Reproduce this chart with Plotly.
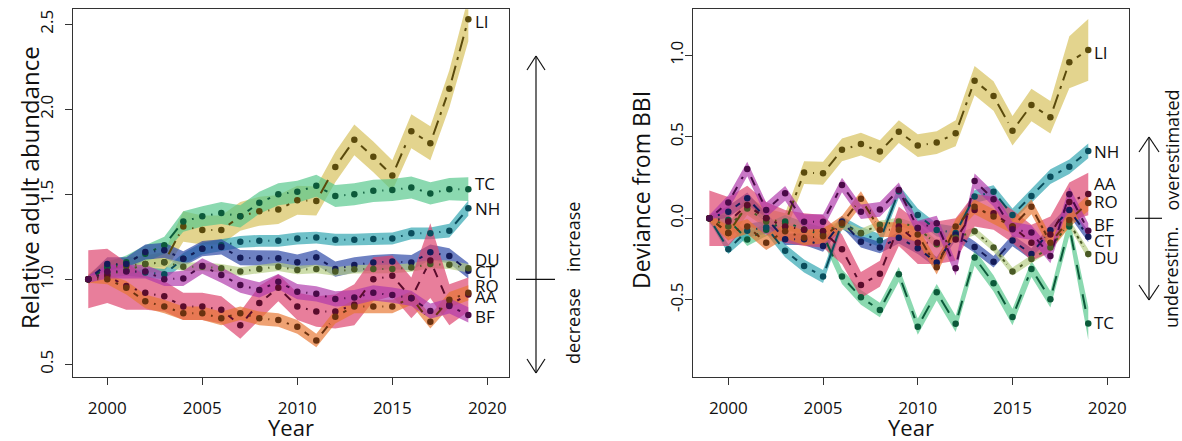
import math
import plotly.graph_objects as go

years = list(range(1999, 2020))
species = ["LI", "TC", "NH", "CT", "DU", "AA", "RO", "BF"]

# ---- left panel: relative adult abundance (estimates) ----
abund_LI = [1.00, 1.07, 1.08, 1.09, 1.10, 1.31, 1.29, 1.29, 1.37, 1.40, 1.41, 1.465, 1.46, 1.66, 1.82, 1.72, 1.61, 1.87, 1.80, 2.12, 2.53]
abund_TC = [1.00, 1.07, 1.10, 1.15, 1.20, 1.34, 1.37, 1.39, 1.37, 1.45, 1.50, 1.515, 1.55, 1.49, 1.50, 1.52, 1.525, 1.54, 1.505, 1.53, 1.53]
abund_NH = [1.00, 1.04, 1.05, 1.04, 1.03, 1.12, 1.18, 1.20, 1.22, 1.226, 1.226, 1.24, 1.245, 1.232, 1.232, 1.237, 1.24, 1.27, 1.27, 1.286, 1.418]
abund_CT = [1.00, 1.09, 1.09, 1.16, 1.17, 1.12, 1.18, 1.19, 1.127, 1.124, 1.124, 1.10, 1.129, 1.06, 1.084, 1.098, 1.104, 1.098, 1.159, 1.137, 1.05]
abund_DU = [1.00, 1.03, 1.05, 1.09, 1.10, 1.074, 1.074, 1.065, 1.045, 1.061, 1.074, 1.055, 1.061, 1.045, 1.059, 1.061, 1.061, 1.069, 1.089, 1.085, 1.065]
abund_AA = [1.00, 1.02, 0.96, 0.92, 0.90, 0.84, 0.84, 0.82, 0.73, 0.86, 0.95, 0.84, 0.81, 0.81, 0.85, 1.00, 1.02, 0.89, 1.11, 0.85, 0.91]
abund_RO = [1.00, 1.00, 0.95, 0.87, 0.84, 0.80, 0.80, 0.77, 0.80, 0.77, 0.76, 0.72, 0.64, 0.78, 0.84, 0.84, 0.84, 0.89, 0.75, 0.88, 0.92]
abund_BF = [1.00, 1.045, 1.045, 1.045, 1.00, 1.005, 1.078, 1.025, 0.966, 0.937, 0.986, 0.927, 0.914, 0.884, 0.892, 0.92, 0.907, 0.888, 0.813, 0.843, 0.79]

# half-widths of the uncertainty bands (left panel)
abund_hw_LI = [0.03, 0.04, 0.05, 0.05, 0.06, 0.09, 0.085, 0.085, 0.085, 0.085, 0.085, 0.085, 0.085, 0.09, 0.09, 0.09, 0.09, 0.10, 0.10, 0.11, 0.13]
abund_hw_TC = [0.02, 0.03, 0.04, 0.05, 0.05, 0.06, 0.06, 0.065, 0.065, 0.065, 0.065, 0.065, 0.065, 0.065, 0.065, 0.065, 0.065, 0.065, 0.065, 0.065, 0.07]
abund_hw_NH = [0.02, 0.03, 0.03, 0.03, 0.03, 0.035, 0.035, 0.035, 0.035, 0.035, 0.035, 0.035, 0.035, 0.035, 0.035, 0.035, 0.035, 0.035, 0.035, 0.04, 0.045]
abund_hw_CT = [0.02, 0.04, 0.04, 0.045, 0.045, 0.045, 0.045, 0.045, 0.045, 0.045, 0.045, 0.045, 0.045, 0.045, 0.045, 0.045, 0.045, 0.045, 0.045, 0.045, 0.045]
abund_hw_DU = [0.015, 0.02, 0.02, 0.025, 0.025, 0.025, 0.025, 0.025, 0.025, 0.025, 0.025, 0.025, 0.025, 0.025, 0.025, 0.025, 0.025, 0.025, 0.025, 0.025, 0.025]
abund_hw_AA = [0.17, 0.16, 0.14, 0.10, 0.09, 0.08, 0.08, 0.08, 0.08, 0.10, 0.08, 0.08, 0.09, 0.10, 0.12, 0.13, 0.12, 0.12, 0.22, 0.12, 0.10]
abund_hw_RO = [0.02, 0.03, 0.04, 0.04, 0.04, 0.04, 0.04, 0.04, 0.04, 0.04, 0.04, 0.04, 0.04, 0.04, 0.04, 0.04, 0.04, 0.04, 0.04, 0.045, 0.045]
abund_hw_BF = [0.02, 0.04, 0.04, 0.04, 0.04, 0.045, 0.045, 0.045, 0.045, 0.045, 0.045, 0.045, 0.045, 0.045, 0.045, 0.045, 0.045, 0.045, 0.045, 0.045, 0.045]

# ---- right panel: deviance from BBI ----
dev_LI = [0.00, -0.09, 0.08, 0.00, -0.03, 0.28, 0.276, 0.42, 0.455, 0.409, 0.531, 0.446, 0.464, 0.521, 0.844, 0.75, 0.537, 0.695, 0.62, 0.957, 1.033]
dev_TC = [0.00, -0.01, -0.13, -0.07, -0.02, -0.07, -0.10, -0.358, -0.485, -0.563, -0.344, -0.665, -0.454, -0.648, -0.241, -0.399, -0.606, -0.311, -0.497, -0.051, -0.645]
dev_NH = [0.00, -0.19, -0.076, -0.055, -0.20, -0.293, -0.358, -0.027, -0.092, -0.136, 0.165, 0.02, -0.072, -0.09, 0.133, 0.163, 0.02, 0.137, 0.255, 0.316, 0.413]
dev_CT = [0.00, 0.04, 0.123, 0.00, -0.129, -0.129, -0.17, -0.02, -0.144, -0.18, -0.12, -0.184, -0.272, -0.10, -0.176, -0.267, -0.137, -0.219, -0.073, 0.051, -0.113]
dev_DU = [0.00, -0.05, 0.06, -0.02, -0.05, -0.07, -0.08, -0.04, -0.09, -0.04, -0.02, -0.06, -0.16, -0.12, -0.08, -0.18, -0.327, -0.25, -0.18, -0.03, -0.22]
dev_AA = [0.00, -0.02, 0.08, 0.00, -0.05, -0.07, -0.08, -0.19, -0.41, -0.34, -0.05, -0.15, -0.15, -0.13, 0.05, 0.03, -0.05, -0.15, -0.10, 0.10, 0.149]
dev_RO = [0.00, -0.09, -0.05, -0.15, -0.08, -0.12, -0.11, -0.03, 0.12, -0.07, -0.07, -0.10, -0.30, -0.05, 0.07, 0.01, -0.05, 0.07, -0.15, -0.01, 0.094]
dev_BF = [0.00, 0.096, 0.302, 0.051, 0.153, -0.021, -0.021, 0.204, 0.04, 0.054, 0.174, -0.06, -0.03, -0.307, 0.229, 0.117, -0.068, -0.088, -0.231, 0.147, -0.076]

dev_hw_LI = [0.03, 0.05, 0.06, 0.06, 0.06, 0.07, 0.07, 0.07, 0.07, 0.07, 0.07, 0.07, 0.07, 0.08, 0.09, 0.09, 0.09, 0.10, 0.10, 0.16, 0.19]
dev_hw_TC = [0.02, 0.03, 0.04, 0.04, 0.04, 0.045, 0.045, 0.045, 0.045, 0.045, 0.045, 0.05, 0.05, 0.05, 0.05, 0.05, 0.05, 0.05, 0.05, 0.06, 0.10]
dev_hw_NH = [0.02, 0.03, 0.04, 0.04, 0.04, 0.04, 0.04, 0.04, 0.04, 0.04, 0.04, 0.04, 0.04, 0.04, 0.04, 0.04, 0.04, 0.045, 0.045, 0.045, 0.045]
dev_hw_CT = [0.02, 0.035, 0.035, 0.035, 0.035, 0.035, 0.035, 0.035, 0.035, 0.035, 0.035, 0.035, 0.035, 0.035, 0.035, 0.035, 0.035, 0.035, 0.035, 0.035, 0.035]
dev_hw_DU = [0.015, 0.025, 0.025, 0.025, 0.025, 0.025, 0.025, 0.025, 0.025, 0.025, 0.025, 0.025, 0.025, 0.025, 0.025, 0.025, 0.025, 0.025, 0.025, 0.025, 0.03]
dev_hw_AA = [0.17, 0.15, 0.12, 0.10, 0.10, 0.10, 0.10, 0.09, 0.08, 0.08, 0.12, 0.13, 0.13, 0.13, 0.10, 0.10, 0.10, 0.11, 0.11, 0.12, 0.13]
dev_hw_RO = [0.02, 0.045, 0.045, 0.045, 0.045, 0.045, 0.045, 0.045, 0.045, 0.045, 0.045, 0.045, 0.045, 0.045, 0.045, 0.045, 0.045, 0.045, 0.045, 0.045, 0.05]
dev_hw_BF = [0.02, 0.045, 0.045, 0.045, 0.045, 0.045, 0.045, 0.045, 0.045, 0.045, 0.045, 0.045, 0.045, 0.045, 0.045, 0.045, 0.045, 0.045, 0.045, 0.045, 0.045]

# label placements (data units, spread to avoid overlap)
abund_label_y = {"LI": 2.514, "TC": 1.566, "NH": 1.414, "DU": 1.119, "CT": 1.043, "RO": 0.966, "AA": 0.90, "BF": 0.78}
dev_label_y = {"LI": 1.014, "NH": 0.407, "AA": 0.216, "RO": 0.10, "BF": -0.041, "CT": -0.134, "DU": -0.238, "TC": -0.637}

abund_ticks = [0.5, 1.0, 1.5, 2.0, 2.5]
dev_ticks = [-0.5, 0.0, 0.5, 1.0]
year_ticks = [2000, 2005, 2010, 2015, 2020]

abund = {"LI": abund_LI, "TC": abund_TC, "NH": abund_NH, "CT": abund_CT, "DU": abund_DU, "AA": abund_AA, "RO": abund_RO, "BF": abund_BF}
abund_hw = {"LI": abund_hw_LI, "TC": abund_hw_TC, "NH": abund_hw_NH, "CT": abund_hw_CT, "DU": abund_hw_DU, "AA": abund_hw_AA, "RO": abund_hw_RO, "BF": abund_hw_BF}
dev = {"LI": dev_LI, "TC": dev_TC, "NH": dev_NH, "CT": dev_CT, "DU": dev_DU, "AA": dev_AA, "RO": dev_RO, "BF": dev_BF}
dev_hw = {"LI": dev_hw_LI, "TC": dev_hw_TC, "NH": dev_hw_NH, "CT": dev_hw_CT, "DU": dev_hw_DU, "AA": dev_hw_AA, "RO": dev_hw_RO, "BF": dev_hw_BF}

# ---- styles ----
band_rgb = {"LI": (214, 191, 88), "TC": (84, 199, 139), "NH": (44, 164, 176), "CT": (42, 69, 165),
            "DU": (182, 205, 131), "AA": (221, 65, 108), "RO": (231, 118, 48), "BF": (176, 56, 171)}
band_alpha = 0.68
line_col = {"LI": "#5a4a0c", "TC": "#0c5a3a", "NH": "#0a4d5c", "CT": "#141b58",
            "DU": "#4a5a26", "AA": "#5a0c2c", "RO": "#6a3210", "BF": "#4a0a48"}
dash = {"LI": "longdashdot", "TC": "longdash", "NH": "solid", "CT": "dashdot",
        "DU": "dot", "AA": "dash", "RO": "dashdot", "BF": "dash"}

FONT = "'Open Sans', Lato, sans-serif"
W, H = 1182, 441
# plot boxes in pixels
L_X0, L_X1 = 72.7, 509.0
R_X0, R_X1 = 692.7, 1129.0
Y_TOP, Y_BOT = 9.3, 377.0

xr_left = [1998.18, 2021.14]
yr_left = [0.425, 2.588]
xr_right = [1998.12, 2021.15]
yr_right = [-0.974, 1.282]

GAP = 9.0  # px gap around points (type = "b" look)


def px2p(x, y):
    return x / W, 1 - y / H


fig = go.Figure()


def add_panel(data, hw, xa, ya, xr, yr, px_w, px_h):
    sx = px_w / (xr[1] - xr[0])
    sy = px_h / (yr[1] - yr[0])
    for sp in species:
        v, h = data[sp], hw[sp]
        up = [a + b for a, b in zip(v, h)]
        lo = [a - b for a, b in zip(v, h)]
        r, g, b = band_rgb[sp]
        fig.add_trace(go.Scatter(x=years + years[::-1], y=up + lo[::-1], fill="toself",
                                 fillcolor=f"rgba({r},{g},{b},{band_alpha})", line=dict(width=0),
                                 mode="lines", hoverinfo="skip", showlegend=False, xaxis=xa, yaxis=ya))
    for sp in species:
        v = data[sp]
        xs, ys = [], []
        for i in range(len(years) - 1):
            x1, y1, x2, y2 = years[i], v[i], years[i + 1], v[i + 1]
            dxp, dyp = (x2 - x1) * sx, (y2 - y1) * sy
            Lp = math.hypot(dxp, dyp)
            if Lp > 2 * GAP + 0.5:
                t = GAP / Lp
                xs += [x1 + t * (x2 - x1), x2 - t * (x2 - x1), None]
                ys += [y1 + t * (y2 - y1), y2 - t * (y2 - y1), None]
        fig.add_trace(go.Scatter(x=xs, y=ys, mode="lines", line=dict(color=line_col[sp], width=2, dash=dash[sp]),
                                 hoverinfo="skip", showlegend=False, xaxis=xa, yaxis=ya))
    for sp in species:
        fig.add_trace(go.Scatter(x=years, y=data[sp], mode="markers",
                                 marker=dict(color=line_col[sp], size=6.5, line=dict(width=0)),
                                 name=sp, showlegend=False, xaxis=xa, yaxis=ya))


pw_l = L_X1 - L_X0
pw_r = R_X1 - R_X0
ph = Y_BOT - Y_TOP
add_panel(abund, abund_hw, "x", "y", xr_left, yr_left, pw_l, ph)
add_panel(dev, dev_hw, "x2", "y2", xr_right, yr_right, pw_r, ph)

axis_common = dict(showline=True, linecolor="#333", linewidth=1, mirror=True, showgrid=False, zeroline=False,
                   ticks="outside", ticklen=7, tickwidth=1, tickcolor="#333",
                   tickfont=dict(family=FONT, size=17, color="#111"))

fig.update_layout(
    width=W, height=H, margin=dict(l=0, r=0, t=0, b=0),
    paper_bgcolor="white", plot_bgcolor="white",
    xaxis=dict(domain=[L_X0 / W, L_X1 / W], range=xr_left, tickvals=year_ticks, anchor="y",
               ticklabelstandoff=9, **axis_common),
    yaxis=dict(domain=[1 - Y_BOT / H, 1 - Y_TOP / H], range=yr_left, tickvals=abund_ticks,
               ticktext=[f"{t:.1f}" for t in abund_ticks], tickangle=-90, anchor="x",
               ticklabelstandoff=5, **axis_common),
    xaxis2=dict(domain=[R_X0 / W, R_X1 / W], range=xr_right, tickvals=year_ticks, anchor="y2",
                ticklabelstandoff=9, **axis_common),
    yaxis2=dict(domain=[1 - Y_BOT / H, 1 - Y_TOP / H], range=yr_right, tickvals=dev_ticks,
                ticktext=[f"{t:.1f}" for t in dev_ticks], tickangle=-90, anchor="x2",
                ticklabelstandoff=-5, **axis_common),
)

ann = []
for sp, yv in abund_label_y.items():
    ann.append(dict(x=2019.25, y=yv, xref="x", yref="y", text=sp, showarrow=False, xanchor="left",
                    yanchor="middle", font=dict(family=FONT, size=17, color="#111")))
for sp, yv in dev_label_y.items():
    ann.append(dict(x=2019.2, y=yv, xref="x2", yref="y2", text=sp, showarrow=False, xanchor="left",
                    yanchor="middle", font=dict(family=FONT, size=17, color="#111")))


def ptext(text, x, y, xanchor="center", yanchor="middle", angle=0, size=17):
    px, py = px2p(x, y)
    ann.append(dict(x=px, y=py, xref="paper", yref="paper", text=text, showarrow=False, xanchor=xanchor,
                    yanchor=yanchor, textangle=angle, font=dict(family=FONT, size=size, color="#111")))


ptext("Year", (L_X0 + L_X1) / 2, 427, size=22)
ptext("Year", (R_X0 + R_X1) / 2, 427, size=22)
ptext("Relative adult abundance", 29, 188, angle=-90, size=24)
ptext("Deviance from BBI", 641, 190, angle=-90, size=23)
ptext("increase", 573, 274, yanchor="bottom", angle=-90, size=18)
ptext("decrease", 573, 286, yanchor="top", angle=-90, size=18)
ptext("overestimated", 1171, 213, yanchor="bottom", angle=-90, size=18)
ptext("underestim.", 1171, 224, yanchor="top", angle=-90, size=18)

shapes = []


def pline(x0, y0, x1, y1):
    a, b = px2p(x0, y0)
    c, d = px2p(x1, y1)
    shapes.append(dict(type="line", xref="paper", yref="paper", x0=a, y0=b, x1=c, y1=d,
                       line=dict(color="#111", width=1.2)))


def arrow(x, ytop, ybot, ymid, bar0, bar1, aw=9, ah=14):
    pline(x, ytop, x, ybot)
    pline(x - aw, ytop + ah, x, ytop)
    pline(x + aw, ytop + ah, x, ytop)
    pline(x - aw, ybot - ah, x, ybot)
    pline(x + aw, ybot - ah, x, ybot)
    pline(bar0, ymid, bar1, ymid)


arrow(536, 56, 373, 279.3, 516, 555)
arrow(1149, 137, 300, 218.3, 1135, 1162, aw=10, ah=15)

fig.update_layout(annotations=ann, shapes=shapes)
fig.write_html("out.html",
               config={"displayModeBar": False, "staticPlot": True},
               post_script="document.body.style.margin='0';document.body.style.padding='0';"
                           "document.documentElement.style.overflow='hidden';")
